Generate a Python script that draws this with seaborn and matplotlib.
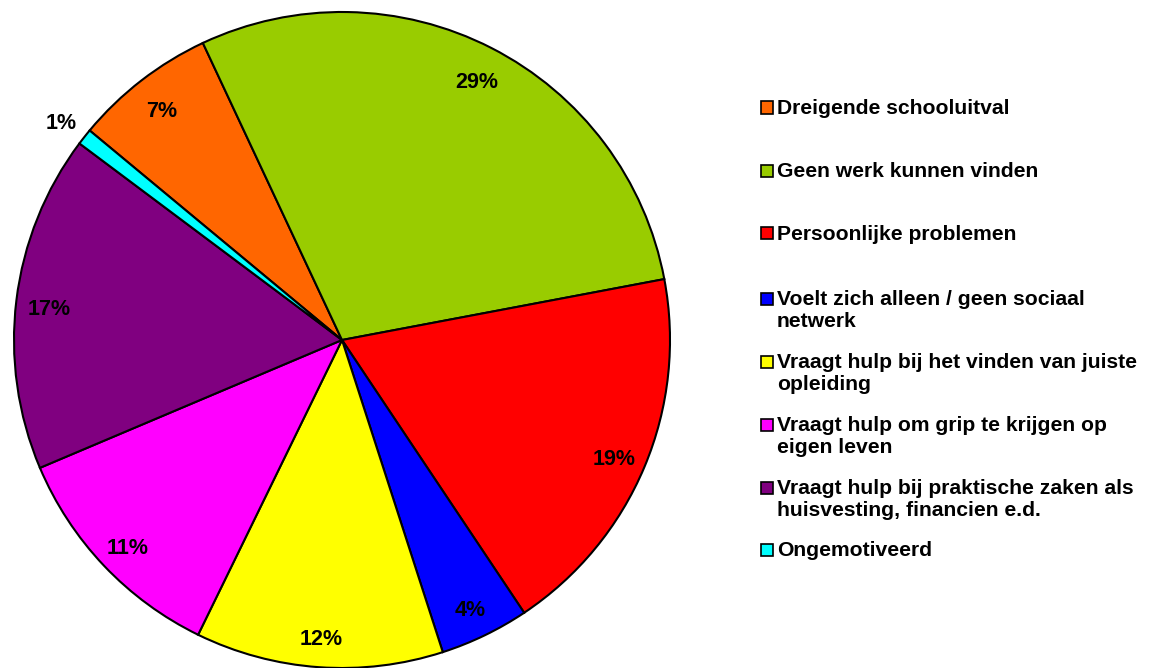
import numpy as np
import matplotlib.pyplot as plt
import matplotlib.patches as mpatches
import matplotlib.transforms as mtransforms
import seaborn as sns

plt.switch_backend("Agg")

categories = [
    "Dreigende schooluitval",
    "Geen werk kunnen vinden",
    "Persoonlijke problemen",
    "Voelt zich alleen / geen sociaal\nnetwerk",
    "Vraagt hulp bij het vinden van juiste\nopleiding",
    "Vraagt hulp om grip te krijgen op\neigen leven",
    "Vraagt hulp bij praktische zaken als\nhuisvesting, financien e.d.",
    "Ongemotiveerd",
]
shares = [7.0, 29.0, 18.6, 4.4, 12.2, 11.4, 16.6, 0.8]
colors = ["#FF6600", "#99CC00", "#FF0000", "#0000FF",
          "#FFFF00", "#FF00FF", "#800080", "#00FFFF"]

sns.set_theme(style="white")
plt.rcParams["font.family"] = ["Liberation Sans", "DejaVu Sans"]
plt.rcParams["font.weight"] = "bold"

W, H = 1156, 668
fig = plt.figure(figsize=(W / 100, H / 100), dpi=100)
fig.patch.set_facecolor("white")

# pie: centre (342, 340) px, radius 328 px
ax = fig.add_axes([14 / W, 0, 656 / W, 656 / H])
start = 140.3
wedges, texts, autotexts = ax.pie(
    shares, colors=colors, startangle=start, counterclock=False,
    autopct="%.0f%%", pctdistance=0.9, radius=1.0,
    wedgeprops=dict(edgecolor="black", linewidth=1.5),
    textprops=dict(fontsize=15.5, fontweight="bold", color="black"),
)
ax.set_xlim(-1, 1)
ax.set_ylim(-1, 1)
ax.set_aspect("equal")
ax.axis("off")

# tiny slice: label sits just outside the pie
w = wedges[-1]
mid = np.deg2rad((w.theta1 + w.theta2) / 2)
autotexts[-1].set_position((1.09 * np.cos(mid), 1.09 * np.sin(mid)))

# excel draws the data labels a few pixels lower
shift = mtransforms.offset_copy(ax.transData, fig=fig, x=0, y=-5, units="dots")
for t in autotexts:
    t.set_transform(shift)

# legend, Excel style: fixed slot per entry, square next to first line
first_line_y = [107, 170, 233, 298, 361, 424, 487, 549]
for label, col, y in zip(categories, colors, first_line_y):
    sq = mpatches.Rectangle((761 / W, 1 - (y + 6.5) / H), 12 / W, 12 / H,
                            transform=fig.transFigure, facecolor=col,
                            edgecolor="black", linewidth=1.2)
    fig.patches.append(sq)
    fig.text(777 / W, 1 - (y - 8) / H, label, fontsize=15.2, fontweight="bold",
             va="top", ha="left", linespacing=1.2, color="black")

fig.savefig("out.png", dpi=100, facecolor="white")
